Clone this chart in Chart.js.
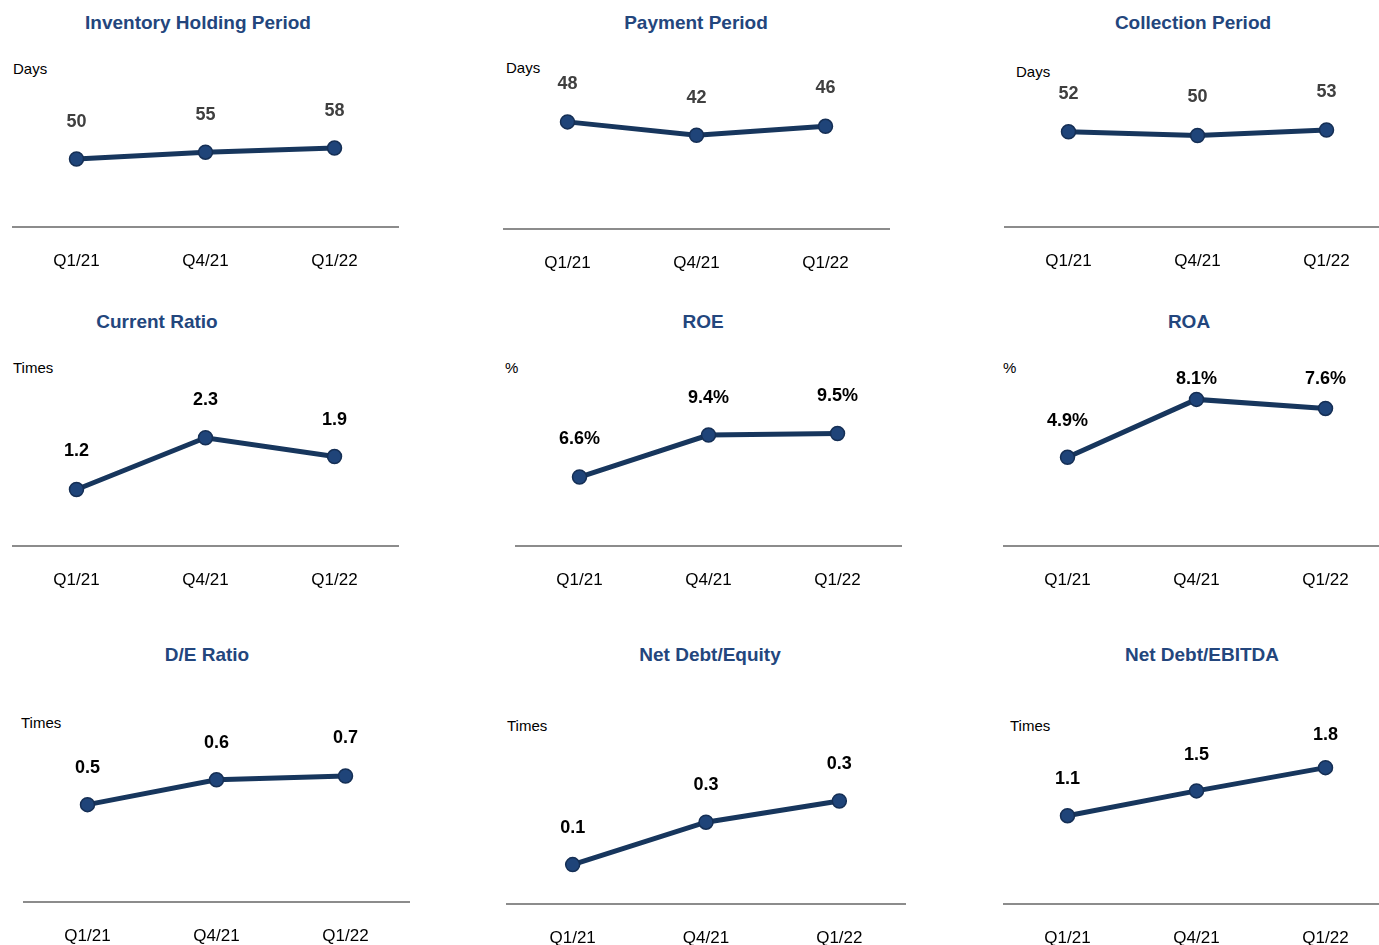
<!DOCTYPE html>
<html>
<head>
<meta charset="utf-8">
<script src="https://cdn.jsdelivr.net/npm/chart.js@4.4.0/dist/chart.umd.min.js"></script>
<style>
  html, body { margin: 0; padding: 0; background: #fff; }
  body { width: 1379px; height: 945px; position: relative; overflow: hidden; font-family: Arial, "Liberation Sans", sans-serif; }
  .title { position: absolute; transform: translateX(-50%); white-space: nowrap; font-weight: bold; font-size: 19px; line-height: 22px; color: #23467d; }
  .unit { position: absolute; font-size: 15px; line-height: 18px; color: #000; }
  canvas { position: absolute; }
</style>
</head>
<body>
<script>
// data
var categories = ["Q1/21", "Q4/21", "Q1/22"];
var inventoryDays = [50, 55, 58];
var paymentDays = [48, 42, 46];
var collectionDays = [52, 50, 53];
var currentRatio = [1.2, 2.3, 1.9];
var roe = [6.6, 9.4, 9.5];
var roa = [4.9, 8.1, 7.6];
var deRatio = [0.51, 0.64, 0.66];
var netDebtEquity = [0.13, 0.27, 0.34];
var netDebtEbitda = [1.14, 1.46, 1.76];

// panel layout: x/y = left edge and baseline of the plot, dy = label distance above point
var panels = [
    { title: "Inventory Holding Period", unit: "Days", data: inventoryDays, dec: 0, suf: "", tx: 198, ty: 23, ux: 13, uy: 69, x: 11.5, y: 227, w: 387, min: 0, max: 117.6, color: "#404040", dy: [37, 37, 37] },
    { title: "Payment Period", unit: "Days", data: paymentDays, dec: 0, suf: "", tx: 696, ty: 23, ux: 506, uy: 68, x: 503, y: 229, w: 387, min: 0, max: 71.7, color: "#404040", dy: [38, 37, 38] },
    { title: "Collection Period", unit: "Days", data: collectionDays, dec: 0, suf: "", tx: 1193, ty: 23, ux: 1016, uy: 72, x: 1003.5, y: 227, w: 387, min: 0, max: 87.4, color: "#404040", dy: [38, 38, 38] },
    { title: "Current Ratio", unit: "Times", data: currentRatio, dec: 1, suf: "", tx: 157, ty: 322, ux: 13, uy: 368, x: 11.5, y: 546, w: 387, min: 0, max: 3.4, color: "#000", dy: [38, 38, 37] },
    { title: "ROE", unit: "%", data: roe, dec: 1, suf: "%", tx: 703, ty: 322, ux: 505, uy: 368, x: 515, y: 546, w: 387, min: 2, max: 12.67, color: "#000", dy: [38, 37, 38] },
    { title: "ROA", unit: "%", data: roa, dec: 1, suf: "%", tx: 1189, ty: 322, ux: 1003, uy: 368, x: 1002.5, y: 546, w: 387, min: 0, max: 8.84, color: "#000", dy: [36, 20, 29] },
    { title: "D/E Ratio", unit: "Times", data: deRatio, dec: 1, suf: "", tx: 207, ty: 655, ux: 21, uy: 723, x: 22.5, y: 902, w: 387, min: 0, max: 0.838, color: "#000", dy: [37, 37, 38] },
    { title: "Net Debt/Equity", unit: "Times", data: netDebtEquity, dec: 1, suf: "", tx: 710, ty: 655, ux: 507, uy: 726, x: 506, y: 904, w: 400, min: 0, max: 0.528, color: "#000", dy: [37, 37, 37] },
    { title: "Net Debt/EBITDA", unit: "Times", data: netDebtEbitda, dec: 1, suf: "", tx: 1202, ty: 655, ux: 1010, uy: 726, x: 1002.5, y: 904, w: 387, min: 0, max: 2.065, color: "#000", dy: [37, 36, 33] }
];

var valueLabels = {
    id: "valueLabels",
    afterDatasetsDraw: function(chart, args, opts) {
        var ctx = chart.ctx;
        var meta = chart.getDatasetMeta(0);
        var values = chart.data.datasets[0].data;
        ctx.save();
        ctx.font = "bold 18px Arial, 'Liberation Sans', sans-serif";
        ctx.fillStyle = opts.color;
        ctx.textAlign = "center";
        ctx.textBaseline = "middle";
        meta.data.forEach(function(pt, i) {
            ctx.fillText(values[i].toFixed(opts.dec) + opts.suf, pt.x, pt.y - opts.dy[i]);
        });
        ctx.restore();
    }
};

var PAD_TOP = 40, AREA_H = 160, AXIS_H = 68;

panels.forEach(function(p) {
    var t = document.createElement("div");
    t.className = "title";
    t.textContent = p.title;
    t.style.left = p.tx + "px";
    t.style.top = (p.ty - 11) + "px";
    document.body.appendChild(t);

    var u = document.createElement("div");
    u.className = "unit";
    u.textContent = p.unit;
    u.style.left = p.ux + "px";
    u.style.top = (p.uy - 9) + "px";
    document.body.appendChild(u);

    var cv = document.createElement("canvas");
    cv.width = p.w;
    cv.height = PAD_TOP + AREA_H + AXIS_H;
    cv.style.left = p.x + "px";
    cv.style.top = (p.y - AREA_H - PAD_TOP) + "px";
    document.body.appendChild(cv);

    new Chart(cv, {
        type: "line",
        data: {
            labels: categories,
            datasets: [{
                data: p.data,
                borderColor: "#17365d",
                borderWidth: 5,
                tension: 0,
                pointRadius: 7,
                pointHoverRadius: 7,
                pointBackgroundColor: "#1f4479",
                pointBorderColor: "#152f55",
                pointBorderWidth: 1.5,
                fill: false
            }]
        },
        options: {
            responsive: false,
            animation: false,
            devicePixelRatio: 1,
            events: [],
            layout: { autoPadding: false, padding: { top: PAD_TOP, left: 0, right: 0, bottom: 0 } },
            plugins: {
                legend: { display: false },
                tooltip: { enabled: false },
                valueLabels: { color: p.color, dec: p.dec, suf: p.suf, dy: p.dy }
            },
            scales: {
                x: {
                    offset: true,
                    grid: { display: false, drawTicks: false },
                    border: { display: true, color: "#8c8c8c", width: 2 },
                    ticks: { color: "#000", padding: 24, font: { family: "Arial, 'Liberation Sans', sans-serif", size: 17, lineHeight: "20px" } }
                },
                y: { display: false, min: p.min, max: p.max }
            }
        },
        plugins: [valueLabels]
    });
});
</script>
</body>
</html>
